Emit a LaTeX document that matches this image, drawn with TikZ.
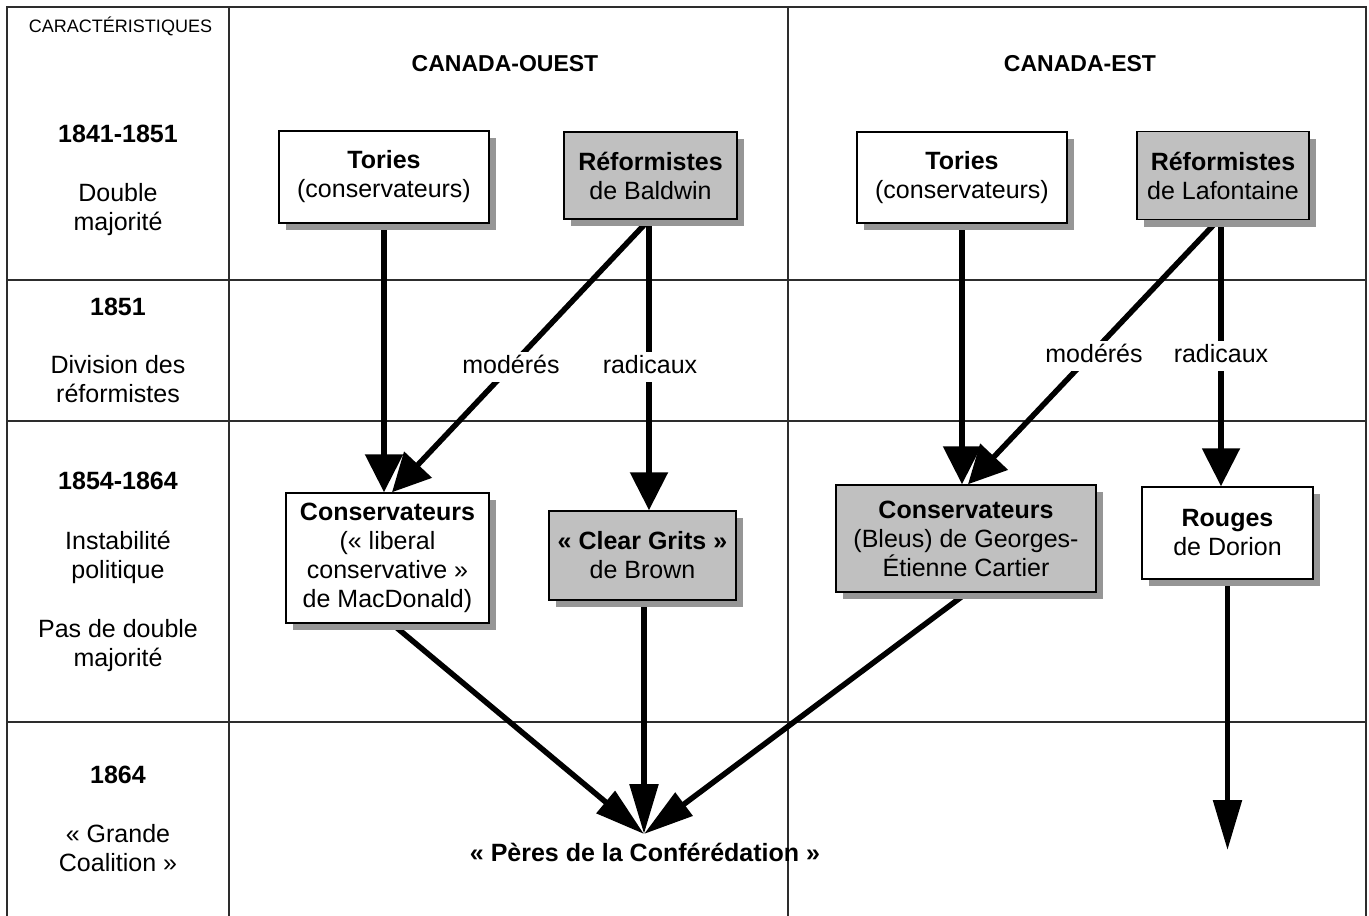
\documentclass[tikz,border=0pt]{standalone}
\usepackage{fontspec}
\setmainfont{Liberation Sans}
\usetikzlibrary{arrows.meta,shadows,backgrounds}
\definecolor{boxgray}{RGB}{192,192,192}
\definecolor{shadowgray}{RGB}{150,150,150}
\definecolor{gridline}{RGB}{45,45,45}
\begin{document}
\begin{tikzpicture}[x=1pt,y=-1pt,
  partybox/.style={draw=black, line width=1.5pt, fill=white, align=center, inner sep=0pt,
    font=\fontsize{25}{29}\selectfont,
    drop shadow={shadow xshift=7pt, shadow yshift=-7pt, fill=shadowgray, opacity=1}},
  graybox/.style={partybox, fill=boxgray},
  gridstyle/.style={draw=gridline, line width=1.3pt},
  arrowline/.style={draw=black, line width=5.5pt},
  bigtip/.style={-{Triangle[width=37pt,length=38pt]}},
  longtip/.style={-{Triangle[width=28pt,length=50pt]}},
  lbl/.style={fill=white, font=\fontsize{25}{29}\selectfont, text height=18pt, text depth=6pt, inner xsep=3pt, inner ysep=3pt, anchor=base},
  lefttxt/.style={font=\fontsize{25}{29}\selectfont, inner sep=0pt, anchor=base},
  leftyear/.style={font=\fontsize{25}{29}\selectfont\bfseries, inner sep=0pt, anchor=base},
  heading/.style={font=\fontsize{23}{27}\selectfont\bfseries, inner sep=0pt, anchor=base}
]
\useasboundingbox (0,0) rectangle (1369,916);

% ---------- boxes ----------
\node[partybox, minimum width=210pt, minimum height=92pt] (tw) at (384,177) {\textbf{Tories}\\(conservateurs)};
\node[graybox, minimum width=173pt, minimum height=87pt] (bw) at (650.5,175.5) {\textbf{Réformistes}\\de Baldwin};
\node[partybox, minimum width=210pt, minimum height=91pt] (te) at (962,177.5) {\textbf{Tories}\\(conservateurs)};
\node[graybox, minimum width=172pt, minimum height=88pt] (lf) at (1223,175.5) {\textbf{Réformistes}\\de Lafontaine};
\node[partybox, minimum width=203pt, minimum height=130pt] (cw) at (387.5,558) {\textbf{Conservateurs}\\(« liberal\\conservative »\\de MacDonald)};
\node[graybox, minimum width=187pt, minimum height=89pt] (cg) at (642.5,555.5) {\textbf{« Clear Grits »}\\de Brown};
\node[graybox, minimum width=260pt, minimum height=107pt] (ca) at (966,538.5) {\textbf{Conservateurs}\\(Bleus) de Georges-\\Étienne Cartier};
\node[partybox, minimum width=171pt, minimum height=92pt] (ro) at (1227.5,533) {\textbf{Rouges}\\de Dorion};

\coordinate (conf) at (644,834);
\coordinate (rend) at (1227.5,850);
\node[font=\fontsize{25}{29}\selectfont\bfseries, inner sep=0pt, anchor=base] (peres) at (645,861) {« Pères de la Conférédation »};

% ---------- grid and arrows (behind) ----------
\begin{pgfonlayer}{background}
  \draw[gridstyle] (7,916) -- (7,7) -- (1366,7) -- (1366,916);
  \draw[gridstyle] (229,7) -- (229,916);
  \draw[gridstyle] (788,7) -- (788,916);
  \draw[gridstyle] (7,280) -- (1366,280);
  \draw[gridstyle] (7,421) -- (1366,421);
  \draw[gridstyle] (7,722) -- (1366,722);

  \draw[arrowline, bigtip] (tw.south) -- (tw.south |- cw.north);
  \draw[arrowline, bigtip] ([xshift=-1.5pt]bw.south) -- ([xshift=4.5pt]cw.north);
  \draw[arrowline, bigtip] ([xshift=-1.5pt]bw.south) -- ([xshift=-1.5pt]bw.south |- cg.north);
  \draw[arrowline, bigtip] (te.south) -- (te.south |- ca.north);
  \draw[arrowline, bigtip] ([xshift=-5pt]lf.south) -- ([xshift=2pt]ca.north);
  \draw[arrowline, bigtip] ([xshift=-2pt]lf.south) -- ([xshift=-2pt]lf.south |- ro.north);
  \draw[arrowline, longtip] ([xshift=4.5pt]cw.south) -- (conf);
  \draw[arrowline, longtip] ([xshift=1.5pt]cg.south) -- (conf);
  \draw[arrowline, longtip] ([xshift=1pt]ca.south) -- (conf);
  \draw[arrowline, longtip] (ro.south) -- (rend);
\end{pgfonlayer}

% ---------- arrow labels ----------
\node[lbl] (mw) at (511,373) {modérés};
\node[lbl] (rw) at (650,373) {radicaux};
\node[lbl] (me) at (1094,362) {modérés};
\node[lbl] (re) at (1221,362) {radicaux};

% ---------- headings ----------
\node[font=\fontsize{18}{20}\selectfont, inner sep=0pt, anchor=base] (carac) at (120.5,32) {CARACTÉRISTIQUES};
\node[heading] (ouest) at (505,71) {CANADA-OUEST};
\node[heading] (est) at (1080,71) {CANADA-EST};

% ---------- left column ----------
\node[leftyear] (y1) at (118,142) {1841-1851};
\node[lefttxt] (t1a) at (118,201) {Double};
\node[lefttxt] (t1b) at (118,230) {majorité};
\node[leftyear] (y2) at (118,315) {1851};
\node[lefttxt] (t2a) at (118,373) {Division des};
\node[lefttxt] (t2b) at (118,402) {réformistes};
\node[leftyear] (y3) at (118,489) {1854-1864};
\node[lefttxt] (t3a) at (118,549) {Instabilité};
\node[lefttxt] (t3b) at (118,578) {politique};
\node[lefttxt] (t3c) at (118,637) {Pas de double};
\node[lefttxt] (t3d) at (118,666) {majorité};
\node[leftyear] (y4) at (118,783) {1864};
\node[lefttxt] (t4a) at (118,842) {« Grande};
\node[lefttxt] (t4b) at (118,871) {Coalition »};
\end{tikzpicture}
\end{document}
